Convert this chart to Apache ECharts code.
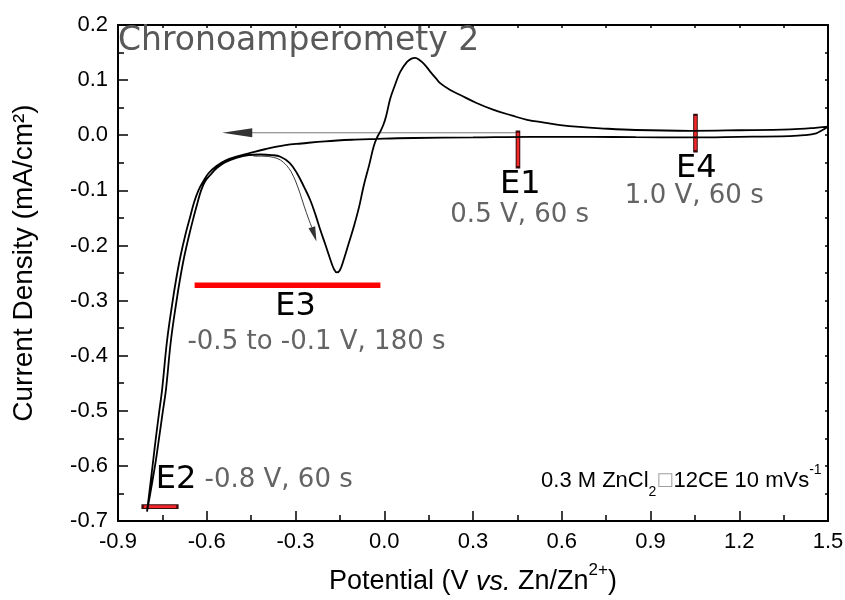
<!DOCTYPE html>
<html>
<head>
<meta charset="utf-8">
<script src="https://cdn.jsdelivr.net/npm/echarts@6/dist/echarts.min.js"></script>
<style>
  html, body { margin: 0; padding: 0; background: #ffffff; }
  #chart { width: 845px; height: 600px; }
</style>
</head>
<body>
<div id="chart"></div>
<script>
// Cyclic voltammogram, 0.3 M ZnCl2 / 12CE electrolyte at 10 mV/s.
// Cathodic sweep: 1.5 V down to -0.8 V (potential in V, current density in mA/cm2)
const cathodicV = [1.5, 1.48, 1.46, 1.42, 1.37, 1.2, 1.03, 0.85, 0.7, 0.5, 0.3, 0.1, 0.0, -0.1, -0.2, -0.28,
  -0.334, -0.4, -0.458, -0.5, -0.537, -0.567, -0.594, -0.612, -0.628, -0.643, -0.656, -0.672, -0.689,
  -0.703, -0.715, -0.734, -0.751, -0.761, -0.771, -0.781, -0.791, -0.802];
const cathodicI = [0.0155, 0.009, 0.0035, 0.0, -0.0015, -0.003, -0.004, -0.0035, -0.003, -0.003, -0.004, -0.005,
  -0.006, -0.008, -0.011, -0.015, -0.018, -0.025, -0.033, -0.039, -0.046, -0.056, -0.069, -0.084, -0.1,
  -0.122, -0.148, -0.18, -0.22, -0.26, -0.3, -0.372, -0.462, -0.503, -0.545, -0.59, -0.635, -0.683];

// Anodic sweep: -0.8 V back up to 1.5 V
const anodicV = [-0.802, -0.786, -0.772, -0.760, -0.749, -0.738, -0.721, -0.702, -0.690, -0.676, -0.659, -0.644,
  -0.631, -0.619, -0.605, -0.588, -0.565, -0.537, -0.5, -0.458, -0.42, -0.38, -0.351, -0.32, -0.295, -0.27, -0.25,
  -0.232, -0.216, -0.198, -0.182, -0.17, -0.16, -0.15, -0.137, -0.12, -0.103, -0.085, -0.07, -0.05, -0.036,
  -0.025, -0.013, -0.003, 0.006, 0.0206, 0.037, 0.054, 0.077, 0.092, 0.105, 0.118, 0.135, 0.156, 0.175,
  0.19, 0.223, 0.257, 0.31, 0.37, 0.43, 0.483, 0.54, 0.595, 0.66, 0.73, 0.85, 1.035, 1.2, 1.373, 1.45, 1.5];
const anodicI = [-0.683, -0.635, -0.59, -0.545, -0.503, -0.462, -0.372, -0.3, -0.26, -0.22, -0.18, -0.148,
  -0.122, -0.1, -0.083, -0.072, -0.059, -0.049, -0.041, -0.036, -0.035, -0.036, -0.039, -0.05, -0.069, -0.095, -0.118,
  -0.145, -0.172, -0.2, -0.226, -0.243, -0.249, -0.245, -0.226, -0.196, -0.166, -0.13, -0.093, -0.052, -0.021,
  -0.005, 0.007, 0.019, 0.034, 0.067, 0.092, 0.115, 0.133, 0.139, 0.1405, 0.137, 0.129, 0.115, 0.103,
  0.094, 0.082, 0.073, 0.059, 0.046, 0.036, 0.028, 0.023, 0.0185, 0.015, 0.0125, 0.0095, 0.008, 0.009,
  0.0107, 0.013, 0.0155];

// Sweep-direction arrows
const scanArrowV = [0.45, -0.447];
const scanArrowI = [0.0045, 0.0045];
const depositArrowV = [-0.442, -0.41, -0.375, -0.351, -0.33, -0.315, -0.3, -0.285, -0.27, -0.257, -0.245];
const depositArrowI = [-0.038, -0.038, -0.040, -0.045, -0.055, -0.066, -0.083, -0.105, -0.13, -0.15, -0.167];
const arrowHeadV = [-0.497, -0.237];
const arrowHeadI = [0.0045, -0.180];
const arrowHeadAngle = [90, 198];

// Chronoamperometry hold steps E1..E4 (marker segments and their captions)
const stepNames = ['E1', 'E2', 'E3', 'E4'];
const stepNotes = ['0.5 V, 60 s', '-0.8 V, 60 s', '-0.5 to -0.1 V, 180 s', '1.0 V, 60 s'];
const stepMarkerV = [[0.452, 0.452], [-0.813, -0.703], [-0.641, -0.013], [1.052, 1.052]];
const stepMarkerI = [[0.0045, -0.056], [-0.674, -0.674], [-0.2724, -0.2724], [0.035, -0.027]];
const stepNameV = [0.46, -0.7036, -0.30, 1.055];
const stepNameI = [-0.0898, -0.6258, -0.312, -0.060];
const stepNoteV = [0.458, -0.357, -0.229, 1.048];
const stepNoteI = [-0.1457, -0.6252, -0.376, -0.1116];

// Electrolyte caption anchor (right edge)
const conditionV = 1.48;
const conditionI = -0.627;

// Axis ranges and ticks
const xMin = -0.9, xMax = 1.5, xStep = 0.3;
const yMin = -0.7, yMax = 0.2, yStep = 0.1;

const pairs = (xs, ys) => xs.map((x, i) => [x, ys[i]]);
const fmt = v => (Math.abs(v) < 1e-9 ? '0.0' : v.toFixed(1));

const SANS = 'Liberation Sans, Arial, sans-serif';
const DEJAVU = 'DejaVu Sans, sans-serif';

const cvData = pairs(cathodicV, cathodicI).concat(pairs(anodicV, anodicI).slice(1));

const axisLineStyle = { color: '#000', width: 2 };
const tickStyle = { color: '#000', width: 1.5 };

function markerSeries(i) {
  const data = pairs(stepMarkerV[i], stepMarkerI[i]);
  if (i === 2) {
    return [{
      type: 'line', data, showSymbol: false, symbol: 'none', z: 4,
      lineStyle: { color: '#ff0000', width: 5.5, cap: 'butt' }
    }];
  }
  return [
    { type: 'line', data, showSymbol: false, symbol: 'none', z: 4,
      lineStyle: { color: '#3a0a0a', width: 4.6, cap: 'square' } },
    { type: 'line', data, showSymbol: false, symbol: 'none', z: 5,
      lineStyle: { color: '#f2282a', width: 2.6, cap: 'butt' } }
  ];
}

const annotationData = [];
stepNames.forEach((name, i) => {
  annotationData.push({
    value: [stepNameV[i], stepNameI[i]],
    label: { formatter: name, fontFamily: DEJAVU, fontSize: 32, color: '#000000' }
  });
  annotationData.push({
    value: [stepNoteV[i], stepNoteI[i]],
    label: { formatter: stepNotes[i], fontFamily: DEJAVU, fontSize: 26, color: '#646464' }
  });
});
annotationData.push({
  value: [conditionV, conditionI],
  label: {
    position: 'left', distance: 0,
    formatter: '0.3 M ZnCl{sub|2}{box|\u25A1}12CE 10 mVs{sup|-1}',
    fontFamily: SANS, fontSize: 22, lineHeight: 36, color: '#000',
    rich: {
      sub: { fontFamily: SANS, fontSize: 14, lineHeight: 13, verticalAlign: 'bottom', color: '#000' },
      sup: { fontFamily: SANS, fontSize: 14, lineHeight: 20, verticalAlign: 'top', color: '#000' },
      box: { fontFamily: DEJAVU, fontSize: 18, lineHeight: 36, color: '#a0a0a0' }
    }
  }
});

const chart = echarts.init(document.getElementById('chart'), null, { renderer: 'canvas' });

chart.setOption({
  animation: false,
  backgroundColor: '#ffffff',
  title: {
    text: 'Chronoamperomety 2',
    left: 118, top: 25, padding: 0,
    textStyle: { fontFamily: DEJAVU, fontSize: 33, lineHeight: 33, fontWeight: 'normal', color: '#595959' }
  },
  grid: { left: 118, right: 17, top: 25, bottom: 79, containLabel: false, outerBoundsMode: 'none' },
  xAxis: [{
    type: 'value', position: 'bottom', min: xMin, max: xMax, interval: xStep,
    name: 'Potential (V {i|vs.} Zn/Zn{sup|2+})',
    nameLocation: 'middle', nameGap: 41,
    nameTextStyle: {
      fontFamily: SANS, fontSize: 27, lineHeight: 40, color: '#000',
      rich: {
        i: { fontFamily: SANS, fontSize: 27, lineHeight: 40, fontStyle: 'italic', color: '#000' },
        sup: { fontFamily: SANS, fontSize: 17, lineHeight: 14, verticalAlign: 'top', color: '#000' }
      }
    },
    axisLine: { show: true, onZero: false, lineStyle: axisLineStyle },
    axisTick: { show: true, inside: true, length: 10, lineStyle: tickStyle },
    minorTick: { show: true, splitNumber: 2, length: 6, lineStyle: tickStyle },
    axisLabel: { show: true, margin: 10, fontFamily: SANS, fontSize: 22, color: '#000', formatter: fmt },
    splitLine: { show: false }, minorSplitLine: { show: false }
  }, {
    type: 'value', position: 'top', min: xMin, max: xMax, interval: xStep,
    axisLine: { show: true, onZero: false, lineStyle: axisLineStyle },
    axisTick: { show: true, inside: true, length: 3, lineStyle: tickStyle },
    minorTick: { show: true, splitNumber: 2, length: 3, lineStyle: tickStyle },
    axisLabel: { show: false }, splitLine: { show: false }
  }],
  yAxis: [{
    type: 'value', position: 'left', min: yMin, max: yMax, interval: yStep,
    name: 'Current Density (mA/cm\u00B2)',
    nameLocation: 'middle', nameGap: 79,
    nameTextStyle: { fontFamily: SANS, fontSize: 28, lineHeight: 30, color: '#000', padding: [0, 0, 0, 20] },
    axisLine: { show: true, onZero: false, lineStyle: axisLineStyle },
    axisTick: { show: true, inside: true, length: 10, lineStyle: tickStyle },
    minorTick: { show: true, splitNumber: 2, length: 6, lineStyle: tickStyle },
    axisLabel: { show: true, margin: 10, fontFamily: SANS, fontSize: 22, color: '#000', formatter: fmt },
    splitLine: { show: false }, minorSplitLine: { show: false }
  }, {
    type: 'value', position: 'right', min: yMin, max: yMax, interval: yStep,
    axisLine: { show: true, onZero: false, lineStyle: axisLineStyle },
    axisTick: { show: true, inside: true, length: 3, lineStyle: tickStyle },
    minorTick: { show: true, splitNumber: 2, length: 3, lineStyle: tickStyle },
    axisLabel: { show: false }, splitLine: { show: false }
  }],
  series: [
    {
      name: 'CV', type: 'line', data: cvData, showSymbol: false, symbol: 'none',
      smooth: 0.4, z: 6,
      lineStyle: { color: '#000', width: 1.8 }
    },
    {
      name: 'scan direction', type: 'line', data: pairs(scanArrowV, scanArrowI),
      showSymbol: false, symbol: 'none', z: 3,
      lineStyle: { color: '#7a7a7a', width: 1.2 }
    },
    {
      name: 'deposition direction', type: 'line', data: pairs(depositArrowV, depositArrowI),
      showSymbol: false, symbol: 'none', smooth: 0.3, z: 3,
      lineStyle: { color: '#3a3a3a', width: 1 }
    },
    {
      name: 'arrow heads', type: 'scatter', symbol: 'triangle', z: 7,
      data: arrowHeadV.map((v, i) => ({
        value: [v, arrowHeadI[i]],
        symbolRotate: arrowHeadAngle[i],
        symbolSize: i === 0 ? [9, 30] : [7, 15]
      })),
      itemStyle: { color: '#333333', opacity: 1 }
    },
    ...markerSeries(0), ...markerSeries(1), ...markerSeries(2), ...markerSeries(3),
    {
      name: 'annotations', type: 'scatter', symbol: 'circle', symbolSize: 1, z: 8,
      data: annotationData,
      itemStyle: { color: 'rgba(0,0,0,0)', opacity: 1 },
      label: { show: true, position: 'inside' }
    }
  ]
});
</script>
</body>
</html>
